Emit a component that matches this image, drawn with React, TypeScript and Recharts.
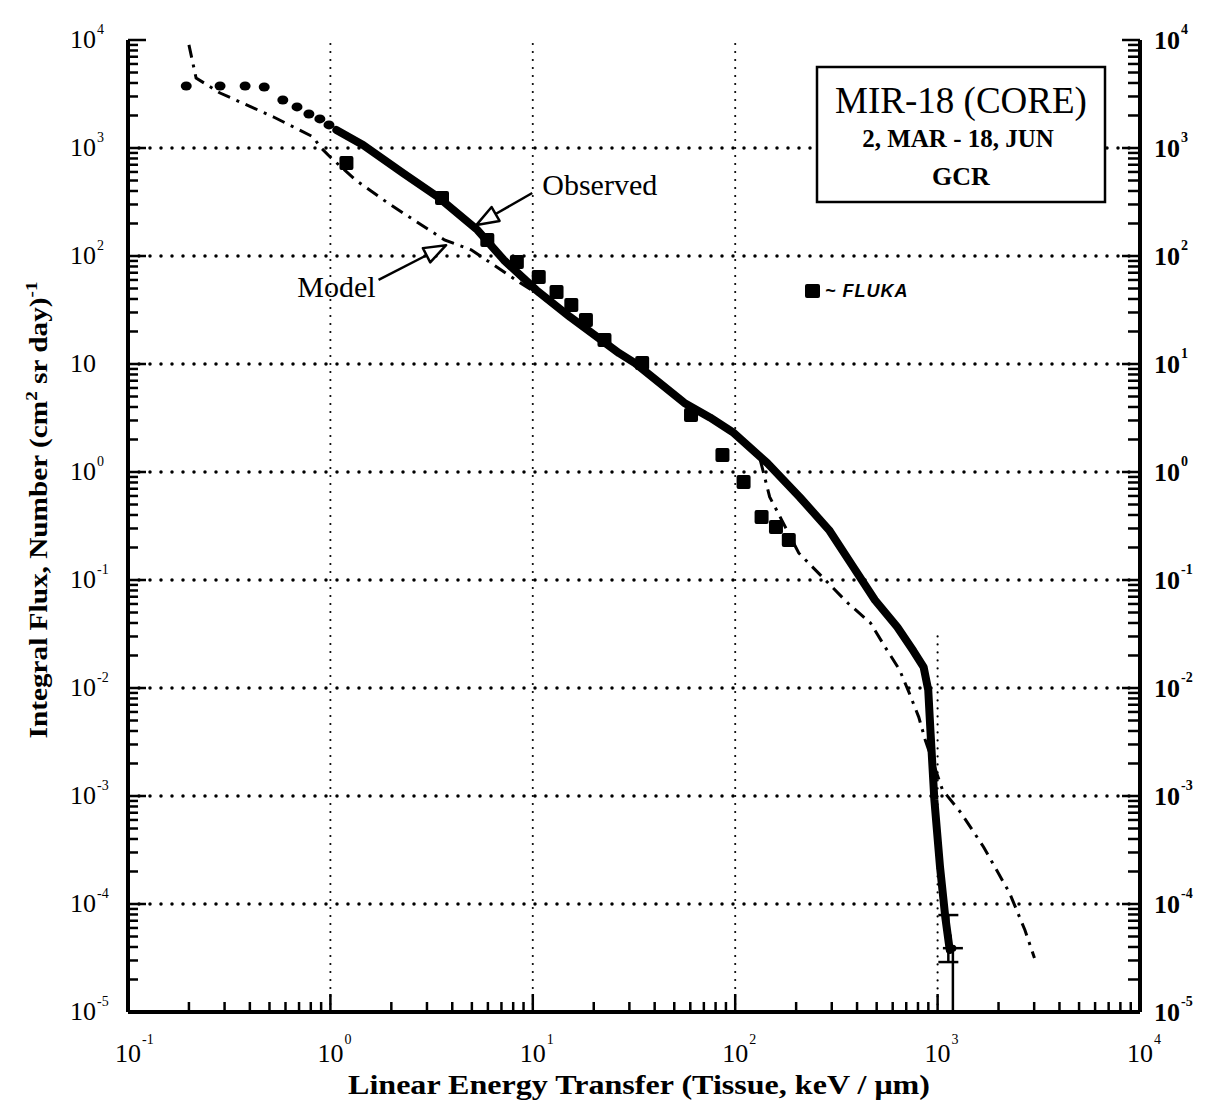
import React from 'react';
import { ComposedChart, Scatter, XAxis, YAxis, ReferenceLine, ErrorBar } from 'recharts';

const SERIF = '"Liberation Serif", "Times New Roman", Times, serif';

// ---- axis tick values / labels ----
const xDecades = [0.1, 1, 10, 100, 1000, 10000];
const xExponents = ['-1', '0', '1', '2', '3', '4'];
const yDecades = [1e-5, 1e-4, 1e-3, 1e-2, 1e-1, 1, 10, 100, 1000, 10000];
const yLeftExponents = ['-5', '-4', '-3', '-2', '-1', '0', '', '2', '3', '4'];
const yRightExponents = ['-5', '-4', '-3', '-2', '-1', '0', '1', '2', '3', '4'];
const minorMultipliers = [2, 3, 4, 5, 6, 7, 8, 9];
const gridY = [1e-4, 1e-3, 1e-2, 1e-1, 1, 10, 100, 1000];
const gridX = [1, 10, 100];

// ---- series (LET keV/um, integral flux) ----
const observedLowLET = [
  { x: 0.194, y: 3750 }, { x: 0.285, y: 3750 }, { x: 0.379, y: 3750 }, { x: 0.471, y: 3670 },
  { x: 0.582, y: 2780 }, { x: 0.684, y: 2400 }, { x: 0.783, y: 2065 }, { x: 0.887, y: 1860 },
  { x: 0.984, y: 1635 },
];

const observed = [
  { x: 1.07, y: 1468 }, { x: 1.45, y: 1066 }, { x: 2.3, y: 580 }, { x: 3.4, y: 352 }, { x: 5.33, y: 174 },
  { x: 7.19, y: 91.9 }, { x: 10.4, y: 48.4 }, { x: 15.3, y: 27.2 }, { x: 26.7, y: 12.6 },
  { x: 32.0, y: 10.2 }, { x: 56.1, y: 4.36 }, { x: 75, y: 3.2 }, { x: 98.4, y: 2.3 }, { x: 144, y: 1.21 },
  { x: 208, y: 0.587 }, { x: 291, y: 0.29 }, { x: 380, y: 0.135 }, { x: 490, y: 0.0653 },
  { x: 632, y: 0.0367 }, { x: 760, y: 0.022 }, { x: 853, y: 0.0156 }, { x: 899, y: 0.00958 }, { x: 923, y: 0.00383 },
  { x: 964, y: 9.18e-4 }, { x: 1028, y: 2.2e-4 }, { x: 1091, y: 7.6e-5 }, { x: 1148, y: 3.75e-5 },
];

const model = [
  { x: 0.2, y: 9000 }, { x: 0.217, y: 4450 }, { x: 0.285, y: 3230 }, { x: 0.524, y: 1936 },
  { x: 0.822, y: 1265 }, { x: 0.891, y: 1020 }, { x: 0.997, y: 826 }, { x: 1.33, y: 506 },
  { x: 1.92, y: 310 }, { x: 3.66, y: 141 }, { x: 4.96, y: 114 }, { x: 6.21, y: 86 },
  { x: 8.69, y: 56.2 }, { x: 10.4, y: 45.4 }, { x: 22.1, y: 15.6 }, { x: 38.7, y: 7.59 },
  { x: 54.2, y: 4.64 }, { x: 98.4, y: 2.3 }, { x: 133, y: 1.29 }, { x: 148, y: 0.587 },
  { x: 160, y: 0.445 }, { x: 206, y: 0.178 }, { x: 360, y: 0.0612 }, { x: 466, y: 0.04 },
  { x: 550, y: 0.024 }, { x: 649, y: 0.0147 }, { x: 724, y: 0.009 }, { x: 807, y: 0.00538 },
  { x: 869, y: 0.0033 }, { x: 1057, y: 0.00114 }, { x: 1306, y: 6.97e-4 }, { x: 1687, y: 3.37e-4 },
  { x: 2270, y: 1.26e-4 }, { x: 2700, y: 5.74e-5 }, { x: 3010, y: 3.16e-5 },
];

const fluka = [
  { x: 1.2, y: 726 }, { x: 3.56, y: 344 }, { x: 5.96, y: 141 }, { x: 8.34, y: 88 },
  { x: 10.7, y: 64 }, { x: 13.1, y: 46.4 }, { x: 15.5, y: 35.2 }, { x: 18.3, y: 25.5 },
  { x: 22.6, y: 16.7 }, { x: 34.7, y: 10.2 }, { x: 60.5, y: 3.37 }, { x: 86.5, y: 1.44 },
  { x: 110, y: 0.807 }, { x: 135, y: 0.383 }, { x: 159, y: 0.31 }, { x: 184, y: 0.234 },
];

const observedEnd = [
  { x: 1130, y: 5e-5, err: [2.1e-5, 2.9e-5] },
  { x: 1190, y: 3.9e-5, err: [2.9e-5, 0] },
];

// annotation arrows (start at label, tip at curve)
const observedArrow = [{ x: 9.94, y: 383 }, { x: 5.27, y: 194 }];
const modelArrow = [{ x: 1.73, y: 60 }, { x: 3.73, y: 126 }];

const withMinor = (decades: number[]) =>
  decades.flatMap((d, i) => (i < decades.length - 1 ? [d, ...minorMultipliers.map((m) => d * m)] : [d]));
const xTicks = withMinor(xDecades);
const yTicks = withMinor(yDecades);
const decadeIndex = (list: number[], v: number) => list.findIndex((d) => Math.abs(d - v) / d < 1e-6);

const BottomTick = (props: any) => {
  const { x, y, payload } = props;
  const i = decadeIndex(xDecades, payload.value);
  const major = i >= 0;
  return (
    <g>
      <line x1={x} x2={x} y1={y} y2={y - (major ? 18 : 10)} stroke="#000" strokeWidth={2.5} />
      {major && (
        <g fontFamily={SERIF} fill="#000">
          <text x={x} y={y + 50} textAnchor="middle" fontSize={26}>10</text>
          <text x={x + 14} y={y + 32} fontSize={14}>{xExponents[i]}</text>
        </g>
      )}
    </g>
  );
};

const TopTick = (props: any) => {
  const { x, y, payload } = props;
  const major = decadeIndex(xDecades, payload.value) >= 0;
  return <line x1={x} x2={x} y1={y} y2={y + (major ? 18 : 10)} stroke="#000" strokeWidth={2.5} />;
};

const LeftTick = (props: any) => {
  const { x, y, payload } = props;
  const i = decadeIndex(yDecades, payload.value);
  const major = i >= 0;
  return (
    <g>
      <line x1={x} x2={x + (major ? 18 : 10)} y1={y} y2={y} stroke="#000" strokeWidth={2.5} />
      {major && (
        <g fontFamily={SERIF} fill="#000">
          <text x={x - 32} y={y + 8} textAnchor="end" fontSize={26}>10</text>
          <text x={x - 31} y={y - 6} fontSize={14}>{yLeftExponents[i]}</text>
        </g>
      )}
    </g>
  );
};

const RightTick = (props: any) => {
  const { x, y, payload } = props;
  const i = decadeIndex(yDecades, payload.value);
  const major = i >= 0;
  return (
    <g>
      <line x1={x} x2={x - (major ? 18 : 12)} y1={y} y2={y} stroke="#000" strokeWidth={2.5} />
      {major && (
        <g fontFamily={SERIF} fill="#000" fontWeight="bold">
          <text x={x + 14} y={y + 9} fontSize={26}>10</text>
          <text x={x + 41} y={y - 6} fontSize={14}>{yRightExponents[i]}</text>
        </g>
      )}
    </g>
  );
};

const Arrow = (props: any) => {
  const { x1, y1, x2, y2, text, dx, dy, anchor } = props;
  const vx = x2 - x1;
  const vy = y2 - y1;
  const len = Math.hypot(vx, vy) || 1;
  const ux = vx / len;
  const uy = vy / len;
  const headLen = 22;
  const headHalf = 8;
  const bx = x2 - ux * headLen;
  const by = y2 - uy * headLen;
  const px = -uy;
  const py = ux;
  const pts = `${x2},${y2} ${bx + px * headHalf},${by + py * headHalf} ${bx - px * headHalf},${by - py * headHalf}`;
  return (
    <g>
      <line x1={x1} y1={y1} x2={bx} y2={by} stroke="#000" strokeWidth={2.5} />
      <polygon points={pts} fill="#fff" stroke="#000" strokeWidth={2.5} strokeLinejoin="round" />
      <text x={x1 + dx} y={y1 + dy} textAnchor={anchor} fontFamily={SERIF} fontSize={30} fill="#000">
        {text}
      </text>
    </g>
  );
};

const XTitle = (props: any) => {
  const vb = props.viewBox || { x: 120, y: 1004, width: 1012 };
  return (
    <text
      x={vb.x + vb.width / 2 + 5}
      y={vb.y + 82}
      textAnchor="middle"
      fontFamily={SERIF}
      fontWeight="bold"
      fontSize={27}
      fill="#000"
      textLength={582}
      lengthAdjust="spacingAndGlyphs"
    >
      Linear Energy Transfer (Tissue, keV /  μm)
    </text>
  );
};

const YTitle = (props: any) => {
  const vb = props.viewBox || { x: 60, y: 32, height: 972 };
  const cx = 39;
  const cy = vb.y + vb.height / 2 - 16;
  return (
    <text
      x={cx}
      y={cy}
      transform={`rotate(-90 ${cx} ${cy})`}
      textAnchor="middle"
      fontFamily={SERIF}
      fontWeight="bold"
      fontSize={26}
      fill="#000"
      textLength={457}
      lengthAdjust="spacingAndGlyphs"
    >
      Integral Flux, Number (cm
      <tspan dy={-10} fontSize={17}>2</tspan>
      <tspan dy={10}> sr day)</tspan>
      <tspan dy={-10} fontSize={17}>-1</tspan>
    </text>
  );
};

const NoShape = () => <g />;
const SquareShape = (p: any) => <rect x={p.cx - 7} y={p.cy - 7} width={14} height={14} rx={2} fill="#000" />;
const DotShape = (p: any) => <ellipse cx={p.cx} cy={p.cy} rx={5.5} ry={4.5} fill="#000" />;
const SmallDot = (p: any) => <circle cx={p.cx} cy={p.cy} r={3.5} fill="#000" />;

const axisLineStyle = { stroke: '#000', strokeWidth: 4 };

export default function App() {
  return (
    <div style={{ position: 'relative', width: 1197, height: 1100, background: '#fff' }}>
      <ComposedChart width={1197} height={1100} margin={{ top: 32, right: 5, bottom: 36, left: 60 }}>
        <XAxis
          xAxisId="b"
          dataKey="x"
          type="number"
          scale="log"
          domain={[0.1, 10000]}
          allowDataOverflow
          ticks={xTicks}
          interval={0}
          tickSize={0}
          tickMargin={0}
          tickLine={false}
          axisLine={axisLineStyle}
          tick={BottomTick}
          height={60}
          label={(p: any) => <XTitle {...p} />}
        />
        <XAxis
          xAxisId="t"
          orientation="top"
          dataKey="x"
          type="number"
          scale="log"
          domain={[0.1, 10000]}
          allowDataOverflow
          ticks={xTicks}
          interval={0}
          tickSize={0}
          tickMargin={0}
          tickLine={false}
          axisLine={axisLineStyle}
          tick={TopTick}
          height={0}
        />
        <YAxis
          yAxisId="l"
          dataKey="y"
          type="number"
          scale="log"
          domain={[1e-5, 10000]}
          allowDataOverflow
          ticks={yTicks}
          interval={0}
          tickSize={0}
          tickMargin={0}
          tickLine={false}
          axisLine={axisLineStyle}
          tick={LeftTick}
          width={60}
          label={(p: any) => <YTitle {...p} />}
        />
        <YAxis
          yAxisId="r"
          orientation="right"
          dataKey="y"
          type="number"
          scale="log"
          domain={[1e-5, 10000]}
          allowDataOverflow
          ticks={yTicks}
          interval={0}
          tickSize={0}
          tickMargin={0}
          tickLine={false}
          axisLine={axisLineStyle}
          tick={RightTick}
          width={60}
        />

        {gridY.map((v) => (
          <ReferenceLine
            key={`gy${v}`}
            xAxisId="b"
            yAxisId="l"
            y={v}
            stroke="#000"
            strokeWidth={3.5}
            strokeDasharray="0 11"
            strokeLinecap="round"
          />
        ))}
        {gridX.map((v) => (
          <ReferenceLine
            key={`gx${v}`}
            xAxisId="b"
            yAxisId="l"
            x={v}
            stroke="#000"
            strokeWidth={2.2}
            strokeDasharray="0 8"
            strokeLinecap="round"
          />
        ))}
        <ReferenceLine
          xAxisId="b"
          yAxisId="l"
          segment={[{ x: 1000, y: 0.03 }, { x: 1000, y: 1e-5 }]}
          stroke="#000"
          strokeWidth={2.2}
          strokeDasharray="0 8"
          strokeLinecap="round"
        />

        <Scatter
          name="Model"
          data={model}
          xAxisId="b"
          yAxisId="l"
          fill="#000"
          shape={NoShape}
          line={{ stroke: '#000', strokeWidth: 3, strokeDasharray: '13 7 3 7' }}
          isAnimationActive={false}
        />
        <Scatter
          name="Observed"
          data={observed}
          xAxisId="b"
          yAxisId="l"
          fill="#000"
          shape={NoShape}
          line={{ stroke: '#000', strokeWidth: 8, strokeLinejoin: 'round', strokeLinecap: 'round' }}
          isAnimationActive={false}
        />
        <Scatter
          name="Observed (low LET)"
          data={observedLowLET}
          xAxisId="b"
          yAxisId="l"
          fill="#000"
          shape={DotShape}
          isAnimationActive={false}
        />
        <Scatter
          name="FLUKA"
          data={fluka}
          xAxisId="b"
          yAxisId="l"
          fill="#000"
          shape={SquareShape}
          isAnimationActive={false}
        />
        <Scatter
          name="Observed end"
          data={observedEnd}
          xAxisId="b"
          yAxisId="l"
          fill="#000"
          shape={SmallDot}
          isAnimationActive={false}
        >
          <ErrorBar dataKey="err" direction="y" width={10} stroke="#000" strokeWidth={2.5} />
        </Scatter>
        <Scatter
          name="axes"
          data={fluka}
          xAxisId="t"
          yAxisId="r"
          fill="none"
          shape={NoShape}
          isAnimationActive={false}
        />

        <ReferenceLine
          xAxisId="b"
          yAxisId="l"
          segment={observedArrow}
          shape={(p: any) => <Arrow {...p} text="Observed" dx={10} dy={2} anchor="start" />}
        />
        <ReferenceLine
          xAxisId="b"
          yAxisId="l"
          segment={modelArrow}
          shape={(p: any) => <Arrow {...p} text="Model" dx={-3} dy={17} anchor="end" />}
        />
      </ComposedChart>

      <svg
        width={1197}
        height={1100}
        style={{ position: 'absolute', left: 0, top: 0, pointerEvents: 'none' }}
      >
        <rect x={809} y={59} width={288} height={135} fill="#fff" stroke="#000" strokeWidth={2.5} />
        <g fontFamily={SERIF} fill="#000" textAnchor="middle">
          <text x={953} y={105} fontSize={37}>MIR-18 (CORE)</text>
          <text x={950} y={139} fontSize={25} fontWeight="bold">2, MAR - 18, JUN</text>
          <text x={953} y={177} fontSize={26} fontWeight="bold">GCR</text>
        </g>
        <rect x={797} y={276} width={15} height={14} rx={2} fill="#000" />
        <text
          x={817}
          y={289}
          fontFamily='"Liberation Sans", Arial, sans-serif'
          fontStyle="italic"
          fontWeight="bold"
          fontSize={18}
          letterSpacing={1}
          fill="#000"
        >
          ~ FLUKA
        </text>
      </svg>
    </div>
  );
}
